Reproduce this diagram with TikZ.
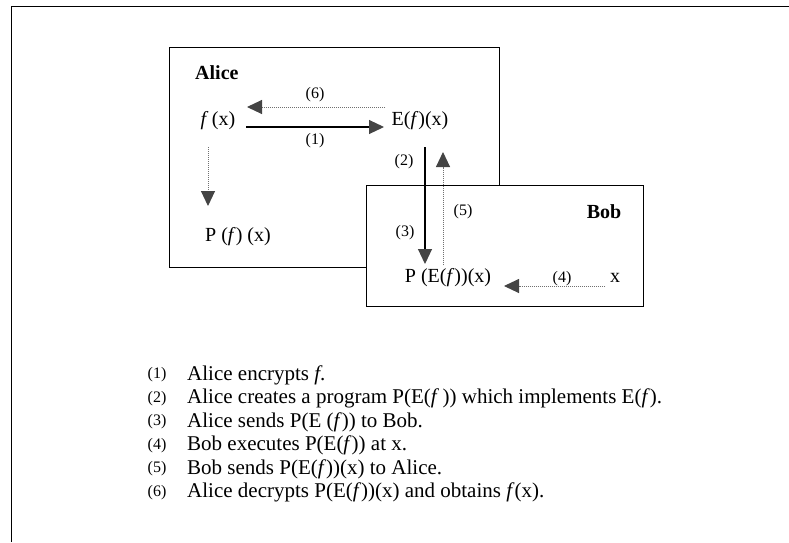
\documentclass[tikz,border=0pt]{standalone}
\usepackage{fontspec}
\setmainfont{Liberation Serif}
\usetikzlibrary{arrows.meta}
\definecolor{headgray}{HTML}{444444}
\definecolor{dotgray}{HTML}{707070}
\begin{document}
\begin{tikzpicture}
  [x=1pt,y=-1pt,
   every node/.style={inner sep=0pt,font=\fontsize{20}{22}\selectfont},
   lbl/.style={font=\fontsize{16}{18}\selectfont},
   who/.style={font=\fontsize{20}{22}\selectfont\bfseries},
   steptext/.style={anchor=west,font=\fontsize{21}{23}\selectfont},
   frame/.style={draw=black,line width=0.9pt},
   solidarrow/.style={draw=black,line width=1.1pt,-{Triangle[length=15pt,width=14pt,color=headgray]}},
   dotarrow/.style={draw=dotgray,densely dotted,line width=1pt,-{Triangle[length=15pt,width=14pt,color=headgray]}}]
\useasboundingbox (0,0) rectangle (789,542);
  % outer frame, cut at the right and the bottom
  \draw[frame] (789,6) -- (11,6) -- (11,542);
  % the two parties
  \draw[frame] (169,47) rectangle (499,267);
  \draw[frame,fill=white] (366,185) rectangle (643,306);
  \node[who,anchor=west] (alice) at (195,73) {Alice};
  \node[who] (bob) at (604,212) {Bob};

  \node (fx) at (218,121) {\textit{f}\,(x)};
  \node (efx) at (420,121) {E(\textit{f})(x)};
  \node (pfx) at (238,237) {P (\textit{f}) (x)};
  \node (pefx) at (448,278) {P (E(\textit{f}))(x)};
  \node (xin) at (615,278) {x};

  \draw[solidarrow] ([shift={(28,6)}]fx.center) -- ([shift={(-36,6)}]efx.center);
  \draw[dotarrow] ([shift={(-35,-14)}]efx.center) -- ([shift={(29,-14)}]fx.center);
  \draw[dotarrow] ([shift={(-10,26)}]fx.center) -- ([shift={(-30,-31)}]pfx.center);
  \draw[solidarrow] ([shift={(5,26)}]efx.center) -- ([shift={(-23,-14)}]pefx.center);
  \draw[dotarrow] ([shift={(-5,-13)}]pefx.center) -- ([shift={(23,31)}]efx.center);
  \draw[dotarrow] ([shift={(-10,8)}]xin.center) -- ([shift={(56,8)}]pefx.center);

  \node[lbl] (l1) at (315,141) {(1)};
  \node[lbl] (l6) at (315,95) {(6)};
  \node[lbl] (l2) at (404,162) {(2)};
  \node[lbl] (l3) at (405,233) {(3)};
  \node[lbl] (l5) at (463,212) {(5)};
  \node[lbl] (l4) at (562,279) {(4)};

  % the steps
  \foreach \i/\txt in {1/{Alice encrypts \textit{f}.},
                       2/{Alice creates a program P(E(\textit{f}\,)) which implements E(\textit{f}).},
                       3/{Alice sends P(E (\textit{f})) to Bob.},
                       4/{Bob executes P(E(\textit{f})) at x.},
                       5/{Bob sends P(E(\textit{f}))(x) to Alice.},
                       6/{Alice decrypts P(E(\textit{f}))(x) and obtains \textit{f}(x).}}
  {
    \node[lbl] (num\i) at (157,{375+23.5*(\i-1)}) {(\i)};
    \node[steptext] (step\i) at (187,{375+23.5*(\i-1)}) {\txt};
  }
\end{tikzpicture}
\end{document}
